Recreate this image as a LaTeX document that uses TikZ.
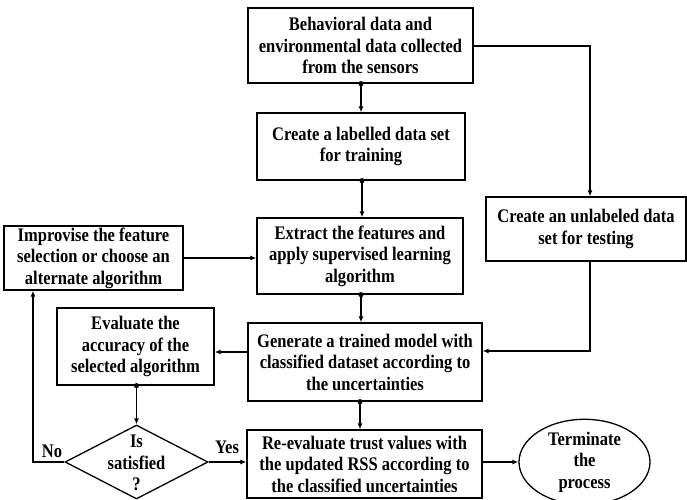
\documentclass[tikz,border=0pt]{standalone}
\usepackage{fontspec}
\setmainfont{Liberation Serif}[FakeStretch=0.86]
\usetikzlibrary{shapes.geometric,arrows.meta}
\tikzset{
  box/.style={draw, line width=1.3pt, rectangle, inner sep=0pt, align=center,
    font=\fontsize{19.2}{21.5}\selectfont\bfseries},
  txt/.style={inner sep=0pt, align=center, font=\fontsize{19.2}{21.5}\selectfont\bfseries},
  arr/.style={line width=1.3pt, -{Latex[length=6pt,width=5pt]}},
  dotc/.style={fill=black}
}
\begin{document}
\begin{tikzpicture}[x=1pt,y=-1pt]
\useasboundingbox (0,0) rectangle (687,499);
\node[box, minimum width=225pt, minimum height=75pt] (b1) at (360.5,45.5)
  {Behavioral data and\\environmental data collected\\from the sensors};
\node[box, minimum width=208pt, minimum height=67pt] (b2) at (361,146.5)
  {Create a labelled data set\\for training};
\node[box, minimum width=206pt, minimum height=76pt] (b3) at (360,256)
  {Extract the features and\\apply supervised learning\\algorithm};
\node[box, minimum width=200pt, minimum height=64pt] (bu) at (586,229)
  {Create an unlabeled data\\set for testing};
\node[box, minimum width=179pt, minimum height=64pt] (bi) at (93.5,258)
  {Improvise the feature\\selection or choose an\\alternate algorithm};
\node[box, minimum width=157pt, minimum height=77pt] (be) at (135.5,346.5)
  {Evaluate the\\accuracy of the\\selected algorithm};
\node[box, minimum width=234pt, minimum height=78pt] (bg) at (365,362)
  {Generate a trained model with\\classified dataset according to\\the uncertainties};
\node[box, minimum width=235pt, minimum height=68pt] (br) at (364.5,464)
  {Re-evaluate trust values with\\the updated RSS according to\\the classified uncertainties};
\node[box, ellipse, minimum width=131pt, minimum height=80pt] (term) at (584.5,462)
  {Terminate\\the\\process};
\node[draw, line width=1.3pt, diamond, inner sep=0pt, minimum width=143pt, minimum height=74pt] (d) at (136.5,462) {};
\node[txt] (dt) at (136.5,463) {Is\\satisfied\\?};
\node[txt] (no) at (52,451) {No};
\node[txt] (yes) at (227,447) {Yes};
\coordinate (noX) at (33,0);

\draw[arr] (b1.south -| 361,0) -- (b2.north -| 361,0);
\fill[dotc] (b1.south -| 361,0) circle (2.6pt);
\draw[arr] (b2.south -| 362,0) -- (b3.north -| 362,0);
\fill[dotc] (b2.south -| 362,0) circle (2.6pt);
\draw[arr] (b3.south -| 361,0) -- (bg.north -| 361,0);
\fill[dotc] (b3.south -| 361,0) circle (2.6pt);
\draw[arr] (bg.south -| 360,0) -- (br.north -| 360,0);
\fill[dotc] (bg.south -| 360,0) circle (2.6pt);
\draw[arr] (b1.east |- 0,46) -| ([xshift=4pt]bu.north);
\draw[arr] ([xshift=4pt]bu.south) |- ([yshift=11pt]bg.east);
\draw[arr] ([yshift=10pt]bg.west) -- ([yshift=10pt]bg.west -| be.east);
\draw[arr] (be.south -| d.north) -- (d.north);
\fill[dotc] (be.south -| d.north) circle (2.6pt);
\draw[arr] (d.west) -| (noX |- bi.south);
\draw[arr] (d.east) -- (br.west |- d.east);
\draw[arr] (bi.east) -- (b3.west |- bi.east);
\draw[arr] (br.east |- term.west) -- (term.west);
\end{tikzpicture}
\end{document}
